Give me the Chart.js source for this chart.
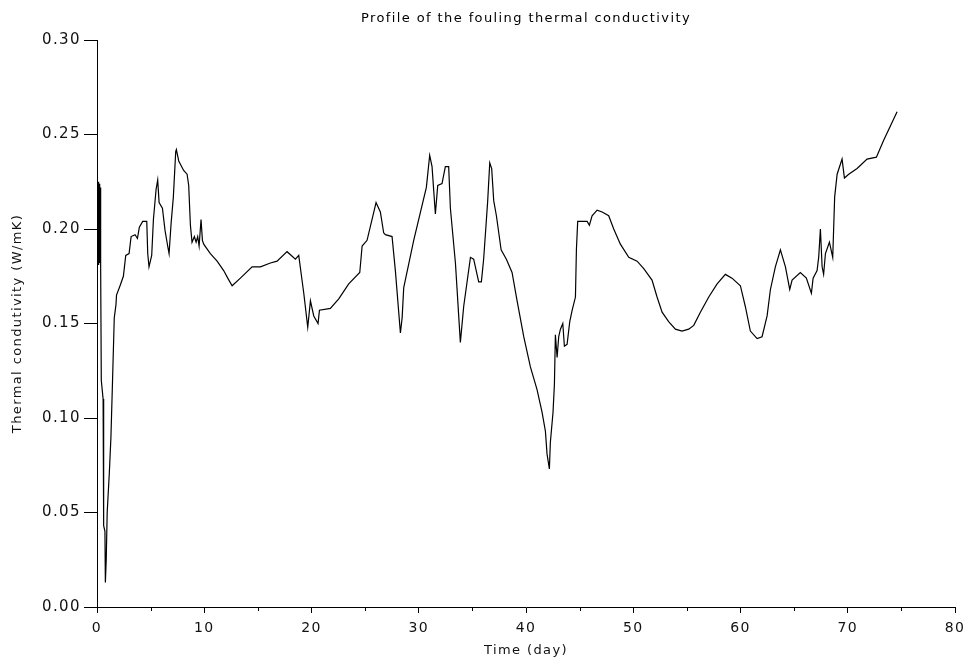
<!DOCTYPE html>
<html>
<head>
<meta charset="utf-8">
<title>Fouling thermal conductivity</title>
<script src="https://cdn.jsdelivr.net/npm/chart.js@4/dist/chart.umd.min.js"></script>
<style>
  html, body { margin: 0; padding: 0; background: #fff; }
  canvas { display: block; }
</style>
</head>
<body>
<canvas id="profile" width="966" height="665"></canvas>
<script>
// time in days and fouling thermal conductivity in W/mK
const days = [
  0.1, 0.15, 0.2, 0.25, 0.3, 0.34, 0.4, 0.57, 0.62, 0.74, 0.78, 0.86, 0.95, 1.15, 1.3, 1.43, 1.61, 1.77, 1.82,
  2.15, 2.46, 2.68, 2.99, 3.18, 3.55, 3.77, 3.95, 4.26, 4.64, 4.73, 4.85, 5.1, 5.26, 5.51, 5.66, 5.79, 6.1,
  6.35, 6.59, 6.72, 6.91, 7.12, 7.34, 7.4, 7.62, 8.08, 8.4, 8.55, 8.71, 8.86, 9.08, 9.24, 9.39, 9.52, 9.7,
  9.83, 9.95, 10.57, 11.2, 11.81, 12.19, 12.6, 13.37, 14.46, 15.24, 16.17, 16.79, 17.72, 18.5, 18.81, 19.28,
  19.65, 19.9, 20.21, 20.61, 20.74, 21.76, 22.54, 23.47, 24.5, 24.72, 25.18, 26.02, 26.42, 26.73, 26.89,
  27.51, 27.82, 28.29, 28.45, 28.6, 29.53, 30.71, 31.02, 31.24, 31.4, 31.55, 31.77, 32.17, 32.48, 32.79,
  32.95, 33.42, 33.88, 34.19, 34.82, 35.12, 35.59, 35.84, 36.05, 36.21, 36.43, 36.62, 36.8, 36.99, 37.24,
  37.68, 38.17, 38.7, 39.17, 39.79, 40.41, 41.03, 41.5, 41.81, 41.96, 42.18, 42.27, 42.52, 42.65, 42.74,
  42.9, 43.05, 43.21, 43.43, 43.58, 43.83, 44.08, 44.3, 44.61, 44.7, 44.82, 45.7, 45.91, 46.16, 46.63,
  47.1, 47.71, 48.18, 48.8, 49.58, 50.36, 50.98, 51.75, 52.22, 52.69, 53.3, 53.93, 54.55, 55.17, 55.64,
  56.26, 57.04, 57.82, 58.59, 59.21, 59.99, 60.45, 60.92, 61.55, 62.01, 62.48, 62.79, 63.25, 63.72, 64.19,
  64.59, 64.81, 65.58, 66.14, 66.61, 66.77, 67.14, 67.29, 67.45, 67.61, 67.75, 67.92, 68.29, 68.6, 68.78,
  69.01, 69.47, 69.69, 70.09, 70.87, 71.8, 72.67, 73.35, 74.6
];
const conductivity = [
  0.225, 0.181, 0.224, 0.182, 0.222, 0.181, 0.120, 0.110, 0.043, 0.040, 0.013, 0.025, 0.050, 0.071, 0.090, 0.116, 0.153, 0.160, 0.165,
  0.170, 0.175, 0.186, 0.187, 0.196, 0.197, 0.195, 0.201, 0.204, 0.204, 0.187, 0.180, 0.186, 0.205, 0.221, 0.226, 0.214, 0.211,
  0.199, 0.191, 0.187, 0.203, 0.217, 0.241, 0.242, 0.236, 0.231, 0.229, 0.223, 0.202, 0.193, 0.196, 0.193, 0.196, 0.191, 0.205,
  0.194, 0.192, 0.187, 0.183, 0.178, 0.174, 0.170, 0.174, 0.180, 0.180, 0.182, 0.183, 0.188, 0.184, 0.186, 0.166,
  0.148, 0.162, 0.154, 0.150, 0.157, 0.158, 0.163, 0.171, 0.177, 0.191, 0.194, 0.214, 0.209, 0.198, 0.197,
  0.196, 0.178, 0.145, 0.153, 0.169, 0.194, 0.222, 0.239, 0.233, 0.220, 0.208, 0.223, 0.224, 0.233, 0.233,
  0.211, 0.182, 0.140, 0.159, 0.185, 0.184, 0.172, 0.172, 0.184, 0.197, 0.215, 0.235, 0.232, 0.215, 0.207,
  0.189, 0.184, 0.177, 0.162, 0.143, 0.127, 0.115, 0.103, 0.093, 0.081, 0.073, 0.087, 0.103, 0.118, 0.144,
  0.132, 0.143, 0.147, 0.150, 0.138, 0.139, 0.151, 0.157, 0.164, 0.189, 0.204, 0.204, 0.202, 0.207, 0.210,
  0.209, 0.207, 0.200, 0.192, 0.185, 0.183, 0.179, 0.173, 0.164, 0.156, 0.151, 0.147, 0.146, 0.147, 0.149,
  0.156, 0.164, 0.171, 0.176, 0.174, 0.170, 0.159, 0.146, 0.142, 0.143, 0.154, 0.168, 0.180, 0.189, 0.180,
  0.168, 0.173, 0.177, 0.174, 0.166, 0.174, 0.178, 0.185, 0.200, 0.180, 0.176, 0.187, 0.193, 0.185, 0.217,
  0.229, 0.237, 0.227, 0.229, 0.232, 0.237, 0.238, 0.247, 0.262
];
// short ticks between the labelled days
const minorDays = [5, 15, 25, 35, 45, 55, 65, 75];

const textFont = 'DejaVu Sans';

const spacing = {
  id: 'spacing',
  beforeLayout(chart) { chart.ctx.letterSpacing = '1.4px'; },
  beforeDraw(chart) { chart.ctx.letterSpacing = '1.4px'; }
};

const minorTicks = {
  id: 'minorTicks',
  afterDraw(chart) {
    const xs = chart.scales.x;
    const ctx = chart.ctx;
    const y0 = chart.chartArea.bottom;
    ctx.save();
    ctx.strokeStyle = '#000';
    ctx.lineWidth = 1;
    minorDays.forEach(d => {
      const px = Math.round(xs.getPixelForValue(d)) + 0.5;
      ctx.beginPath();
      ctx.moveTo(px, y0);
      ctx.lineTo(px, y0 + 4);
      ctx.stroke();
    });
    ctx.restore();
  }
};

new Chart(document.getElementById('profile'), {
  type: 'line',
  data: {
    datasets: [{
      data: days.map((d, i) => ({ x: d, y: conductivity[i] })),
      borderColor: '#000',
      borderWidth: 1.2,
      pointRadius: 0,
      tension: 0,
      fill: false
    }]
  },
  options: {
    responsive: false,
    animation: false,
    devicePixelRatio: 1,
    layout: { padding: { left: 0, right: 11, top: 0, bottom: 0 } },
    plugins: {
      legend: { display: false },
      tooltip: { enabled: false },
      title: {
        display: true,
        fullSize: false,
        text: 'Profile of the fouling thermal conductivity',
        color: '#000',
        font: { family: textFont, size: 13, weight: 'normal' },
        padding: { top: 11, bottom: 13.4 }
      }
    },
    scales: {
      x: {
        type: 'linear',
        min: 0,
        max: 80,
        afterFit(scale) {
          scale.height = 58;
          scale.paddingLeft = 0;
          scale.paddingRight = 0;
        },
        border: { display: true, color: '#000', width: 1 },
        grid: { drawOnChartArea: false, drawTicks: true, tickLength: 6, color: '#000' },
        ticks: {
          stepSize: 10,
          padding: 7,
          color: '#111',
          font: { family: textFont, size: 14 }
        },
        title: {
          display: true,
          text: 'Time (day)',
          color: '#111',
          font: { family: textFont, size: 13 },
          padding: { top: 4, bottom: 7 }
        }
      },
      y: {
        min: 0,
        max: 0.3,
        afterFit(scale) { scale.width = 97; },
        border: { display: true, color: '#000', width: 1 },
        grid: { drawOnChartArea: false, drawTicks: true, tickLength: 13, color: '#000' },
        ticks: {
          stepSize: 0.05,
          padding: 3,
          color: '#111',
          font: { family: textFont, size: 15 },
          callback: v => v.toFixed(2)
        },
        title: {
          display: true,
          text: 'Thermal condutivity (W/mK)',
          color: '#111',
          font: { family: textFont, size: 13 },
          padding: { top: 10, bottom: 4 }
        }
      }
    }
  },
  plugins: [spacing, minorTicks]
});
</script>
</body>
</html>
